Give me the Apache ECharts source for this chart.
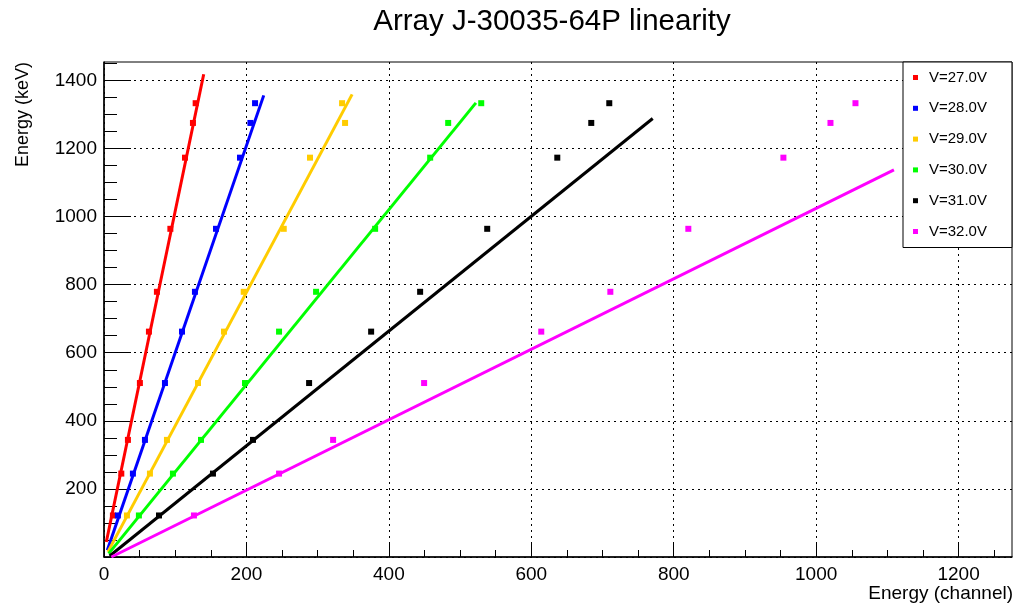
<!DOCTYPE html>
<html>
<head>
<meta charset="utf-8">
<script src="https://cdn.jsdelivr.net/npm/echarts@6/dist/echarts.min.js"></script>
<style>
html,body{margin:0;padding:0;background:#fff;}
#chart{width:1016px;height:608px;}
</style>
</head>
<body>
<div id="chart"></div>
<script>
// ---- data ----
const seriesNames = ['V=27.0V', 'V=28.0V', 'V=29.0V', 'V=30.0V', 'V=31.0V', 'V=32.0V'];
const seriesColors = ['#ff0000', '#0000ff', '#ffcc00', '#00ff00', '#000000', '#ff00ff'];
const energies = [122, 245, 344, 511, 662, 779, 964, 1173, 1275, 1333];
const ch27 = [12.5, 24.3, 33.6, 50.4, 63.1, 74.3, 93.2, 113.7, 124.9, 128.7];
const ch28 = [19.5, 40.6, 57.5, 85.6, 109.5, 127.7, 157.3, 191.0, 205.6, 212.1];
const ch29 = [32.2, 64.5, 88.4, 132.0, 168.5, 196.2, 252.4, 289.3, 338.5, 334.3];
const ch30 = [49.0, 96.8, 136.2, 198.0, 245.8, 297.8, 380.7, 458.0, 483.3, 529.7];
const ch31 = [77.2, 153.0, 209.2, 288.0, 375.1, 443.9, 538.1, 636.5, 684.2, 709.5];
const ch32 = [126.3, 245.8, 321.7, 449.5, 614.0, 711.0, 820.5, 954.0, 1020.1, 1055.2];
// fitted lines: [channel, energy] end points
const fit27 = [[3.2, 44], [140.0, 1418]];
const fit28 = [[4.6, 20], [224.3, 1356]];
const fit29 = [[5.5, 15], [348.4, 1359]];
const fit30 = [[6.5, 10], [522.2, 1334]];
const fit31 = [[7.9, 3], [770.5, 1288]];
const fit32 = [[10.3, 0], [1109.2, 1137]];
// axis ticks
const xMajorTicks = [0, 200, 400, 600, 800, 1000, 1200];
const xMinorTicks = [50, 100, 150, 250, 300, 350, 450, 500, 550, 650, 700, 750, 850, 900, 950, 1050, 1100, 1150, 1250];
const yMajorTicks = [0, 200, 400, 600, 800, 1000, 1200, 1400];
const yLabelTicks = [200, 400, 600, 800, 1000, 1200, 1400];
const yMinorTicks = [50, 100, 150, 250, 300, 350, 450, 500, 550, 650, 700, 750, 850, 900, 950, 1050, 1100, 1150, 1250, 1300, 1350, 1450];
const xRange = [0, 1275];
const yRange = [0, 1454];
const titleText = 'Array J-30035-64P linearity';
const xTitle = 'Energy (channel)';
const yTitle = 'Energy (keV)';

const channels = [ch27, ch28, ch29, ch30, ch31, ch32];
const fits = [fit27, fit28, fit29, fit30, fit31, fit32];

const FONT = "'Liberation Sans', Arial, Helvetica, sans-serif";
const chart = echarts.init(document.getElementById('chart'), null, {renderer: 'canvas'});

const series = [];
seriesNames.forEach((name, i) => {
  series.push({
    name: name,
    type: 'scatter',
    xAxisIndex: 0, yAxisIndex: 0,
    symbol: 'rect',
    symbolSize: 6,
    itemStyle: {color: seriesColors[i], opacity: 1},
    data: channels[i].map((c, k) => [c, energies[k]]),
    z: 3
  });
  series.push({
    name: 'fit ' + name,
    type: 'line',
    xAxisIndex: 0, yAxisIndex: 0,
    showSymbol: false,
    symbol: 'none',
    lineStyle: {color: seriesColors[i], width: 3},
    data: fits[i],
    z: 2,
    silent: true
  });
});

const labelStyle = {color: '#000', fontFamily: FONT, fontSize: 19, formatter: v => String(v)};

const option = {
  animation: false,
  backgroundColor: '#fff',
  grid: {left: 104, right: 4, top: 62, bottom: 51, show: true, borderColor: '#000', borderWidth: 1, backgroundColor: 'transparent'},
  graphic: [
    {type: 'text', x: 552, y: 22, style: {text: titleText, font: '29.5px ' + FONT, fill: '#000', align: 'center', verticalAlign: 'middle'}},
    {type: 'text', x: 1013, y: 594, style: {text: xTitle, font: '19px ' + FONT, fill: '#000', align: 'right', verticalAlign: 'middle'}},
    {type: 'text', x: 23, y: 62, rotation: Math.PI / 2, style: {text: yTitle, font: '18px ' + FONT, fill: '#000', align: 'right', verticalAlign: 'middle'}}
  ],
  legend: {
    orient: 'vertical',
    left: 903, top: 62,
    data: seriesNames.map(n => ({name: n, icon: 'rect'})),
    itemWidth: 5, itemHeight: 5,
    itemGap: 14.8,
    padding: [7.5, 25, 8, 10],
    backgroundColor: '#fff',
    borderColor: '#000',
    borderWidth: 1,
    borderRadius: 0,
    textStyle: {color: '#000', fontFamily: FONT, fontSize: 15, lineHeight: 16, padding: [0, 0, 0, 6]},
    selectedMode: false,
    z: 10
  },
  xAxis: [
    {
      type: 'value', min: xRange[0], max: xRange[1], interval: 200,
      axisLine: {show: true, onZero: false, lineStyle: {color: '#000', width: 1.5}},
      axisTick: {show: true, inside: true, length: 14, customValues: xMajorTicks, lineStyle: {color: '#000', width: 1}},
      axisLabel: {show: true, margin: 8, customValues: xMajorTicks, ...labelStyle},
      splitLine: {show: true, lineStyle: {color: '#000', width: 1, type: [2, 4]}},
      minorTick: {show: false}
    },
    {
      type: 'value', min: xRange[0], max: xRange[1], position: 'bottom',
      axisLine: {show: false},
      axisTick: {show: true, inside: true, length: 7, customValues: xMinorTicks, lineStyle: {color: '#000', width: 1}},
      axisLabel: {show: false},
      splitLine: {show: false}
    }
  ],
  yAxis: [
    {
      type: 'value', min: yRange[0], max: yRange[1], interval: 200,
      axisLine: {show: true, onZero: false, lineStyle: {color: '#000', width: 1.5}},
      axisTick: {show: true, inside: true, length: 27, customValues: yMajorTicks, lineStyle: {color: '#000', width: 1}},
      axisLabel: {show: true, margin: 7, customValues: yLabelTicks, ...labelStyle},
      splitLine: {show: true, lineStyle: {color: '#000', width: 1, type: [2, 4]}}
    },
    {
      type: 'value', min: yRange[0], max: yRange[1], position: 'left',
      axisLine: {show: false},
      axisTick: {show: true, inside: true, length: 13, customValues: yMinorTicks, lineStyle: {color: '#000', width: 1}},
      axisLabel: {show: false},
      splitLine: {show: false}
    }
  ],
  series: series
};
chart.setOption(option);
</script>
</body>
</html>
